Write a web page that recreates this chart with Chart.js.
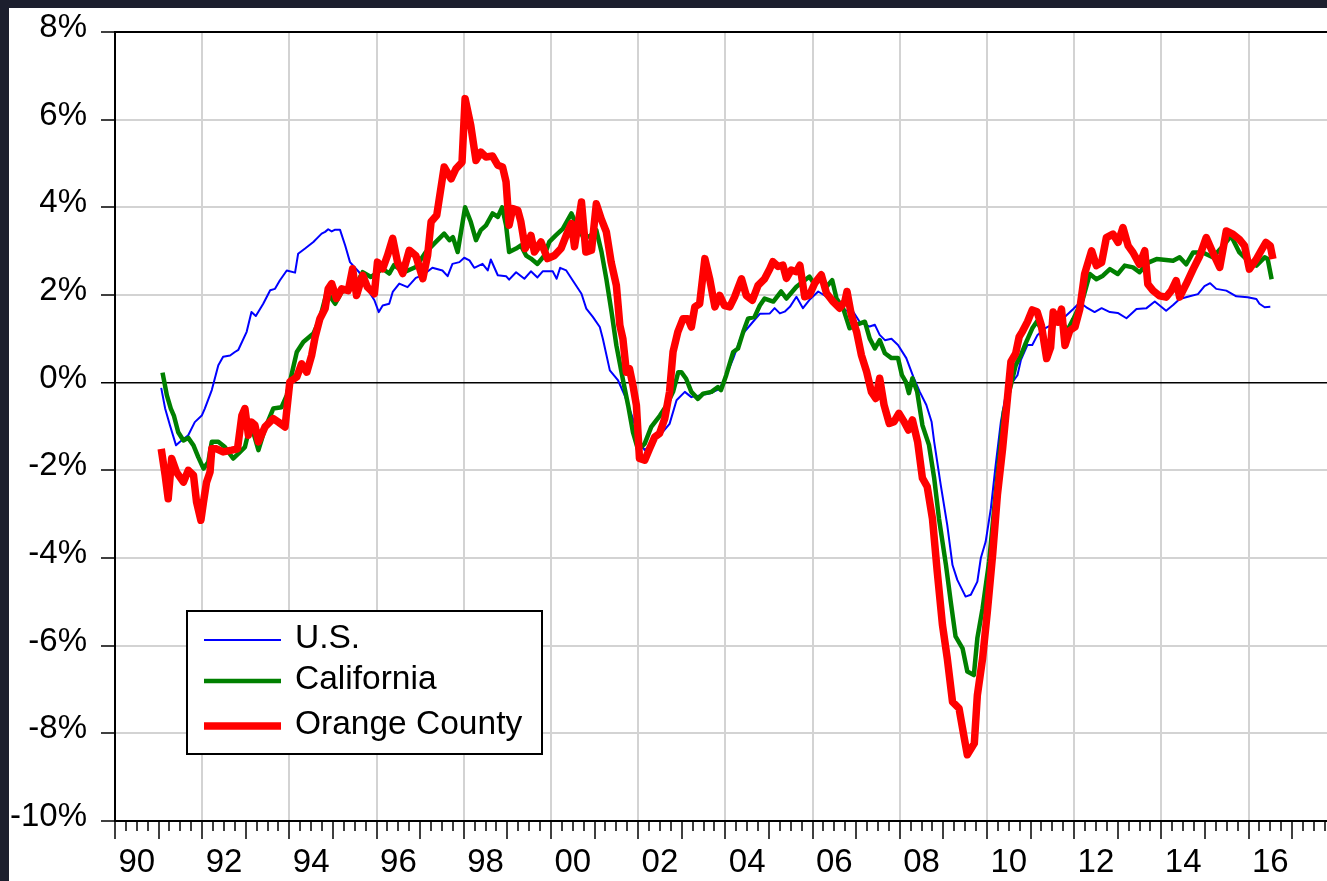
<!DOCTYPE html>
<html>
<head>
<meta charset="utf-8">
<script src="https://cdn.jsdelivr.net/npm/chart.js@4"></script>
<style>
  html, body { margin: 0; padding: 0; }
  body { background: #1c1f2e; width: 1327px; height: 881px; overflow: hidden; position: relative; }
  #chart { position: absolute; left: 9px; top: 8px; background: #fff; }
</style>
</head>
<body>
<canvas id="chart" width="1318" height="873"></canvas>
<script>
// values (year as decimal, percent change)
const usYears = [1991.06, 1991.15, 1991.26, 1991.40, 1991.49, 1991.68, 1991.83, 1991.99, 1992.06, 1992.22, 1992.37, 1992.48, 1992.64, 1992.75, 1992.83, 1993.02, 1993.13, 1993.23, 1993.40, 1993.56, 1993.67, 1993.78, 1993.94, 1994.13, 1994.20, 1994.36, 1994.55, 1994.66, 1994.74, 1994.82, 1994.89, 1994.97, 1995.05, 1995.16, 1995.28, 1995.39, 1995.6, 1995.83, 1995.95, 1996.05, 1996.14, 1996.29, 1996.37, 1996.52, 1996.71, 1996.9, 1997.06, 1997.28, 1997.51, 1997.63, 1997.74, 1997.9, 1998.01, 1998.13, 1998.24, 1998.43, 1998.55, 1998.62, 1998.78, 1998.97, 1999.04, 1999.2, 1999.39, 1999.54, 1999.69, 1999.81, 2000.04, 2000.13, 2000.21, 2000.35, 2000.5, 2000.7, 2000.81, 2000.96, 2001.12, 2001.19, 2001.35, 2001.54, 2001.69, 2001.88, 2002.03, 2002.15, 2002.3, 2002.5, 2002.72, 2002.88, 2003.07, 2003.22, 2003.41, 2003.64, 2003.87, 2004.02, 2004.18, 2004.37, 2004.6, 2004.79, 2005.02, 2005.13, 2005.25, 2005.36, 2005.48, 2005.63, 2005.78, 2005.93, 2006.13, 2006.32, 2006.5, 2006.7, 2006.93, 2007.08, 2007.31, 2007.43, 2007.54, 2007.66, 2007.81, 2007.96, 2008.15, 2008.31, 2008.46, 2008.61, 2008.73, 2008.79, 2008.94, 2009.09, 2009.21, 2009.32, 2009.51, 2009.63, 2009.78, 2009.86, 2009.97, 2010.09, 2010.2, 2010.32, 2010.43, 2010.59, 2010.7, 2010.78, 2010.93, 2011.04, 2011.16, 2011.35, 2011.55, 2011.7, 2011.82, 2011.98, 2012.13, 2012.28, 2012.47, 2012.63, 2012.82, 2013.0, 2013.2, 2013.43, 2013.66, 2013.85, 2014.11, 2014.27, 2014.42, 2014.65, 2014.84, 2014.99, 2015.12, 2015.26, 2015.49, 2015.72, 2015.98, 2016.18, 2016.25, 2016.37, 2016.5];
const usValues = [-0.12, -0.59, -0.97, -1.43, -1.35, -1.2, -0.9, -0.75, -0.59, -0.17, 0.4, 0.59, 0.62, 0.7, 0.75, 1.16, 1.61, 1.52, 1.8, 2.11, 2.14, 2.33, 2.56, 2.51, 2.94, 3.06, 3.21, 3.32, 3.4, 3.44, 3.5, 3.45, 3.49, 3.49, 3.13, 2.75, 2.52, 2.07, 1.88, 1.61, 1.76, 1.8, 2.07, 2.26, 2.18, 2.39, 2.45, 2.62, 2.56, 2.43, 2.71, 2.75, 2.85, 2.79, 2.62, 2.71, 2.56, 2.81, 2.45, 2.43, 2.35, 2.52, 2.37, 2.54, 2.4, 2.54, 2.54, 2.37, 2.62, 2.56, 2.33, 2.03, 1.69, 1.5, 1.27, 1.0, 0.28, 0.05, -0.29, -0.82, -1.35, -1.54, -1.39, -1.2, -0.94, -0.4, -0.21, -0.33, -0.29, -0.25, -0.14, 0.17, 0.55, 1.08, 1.35, 1.57, 1.58, 1.7, 1.58, 1.62, 1.73, 1.96, 1.7, 1.89, 2.08, 1.96, 1.77, 1.66, 1.62, 1.39, 1.28, 1.32, 1.09, 0.97, 1.0, 0.86, 0.56, 0.14, -0.21, -0.51, -0.89, -1.35, -2.33, -3.25, -4.16, -4.5, -4.88, -4.84, -4.54, -4.0, -3.63, -2.87, -1.88, -0.89, -0.28, 0.02, 0.17, 0.52, 0.86, 0.86, 1.09, 1.25, 1.35, 1.45, 1.53, 1.68, 1.83, 1.72, 1.61, 1.7, 1.61, 1.59, 1.47, 1.68, 1.7, 1.85, 1.64, 1.77, 1.91, 1.97, 2.02, 2.2, 2.27, 2.14, 2.1, 1.97, 1.95, 1.91, 1.8, 1.72, 1.73];

const caYears = [1991.09, 1991.19, 1991.28, 1991.35, 1991.45, 1991.57, 1991.68, 1991.80, 1991.91, 1992.03, 1992.14, 1992.22, 1992.37, 1992.52, 1992.71, 1992.83, 1992.98, 1993.10, 1993.17, 1993.29, 1993.44, 1993.63, 1993.82, 1993.94, 1994.17, 1994.32, 1994.55, 1994.70, 1994.86, 1995.05, 1995.20, 1995.39, 1995.54, 1995.68, 1995.87, 1996.14, 1996.29, 1996.4, 1996.63, 1996.9, 1997.13, 1997.36, 1997.55, 1997.67, 1997.75, 1997.86, 1998.03, 1998.16, 1998.28, 1998.39, 1998.51, 1998.66, 1998.78, 1998.88, 1998.97, 1999.04, 1999.2, 1999.31, 1999.43, 1999.54, 1999.69, 1999.85, 1999.96, 2000.11, 2000.27, 2000.47, 2000.59, 2000.75, 2000.9, 2001.04, 2001.16, 2001.27, 2001.39, 2001.5, 2001.66, 2001.77, 2001.88, 2002.0, 2002.15, 2002.3, 2002.5, 2002.65, 2002.8, 2002.92, 2002.99, 2003.1, 2003.22, 2003.37, 2003.49, 2003.68, 2003.83, 2003.9, 2004.02, 2004.18, 2004.29, 2004.41, 2004.52, 2004.67, 2004.79, 2004.9, 2005.1, 2005.28, 2005.4, 2005.63, 2005.93, 2006.05, 2006.2, 2006.32, 2006.45, 2006.55, 2006.7, 2006.85, 2007.0, 2007.2, 2007.31, 2007.43, 2007.54, 2007.66, 2007.81, 2007.96, 2008.05, 2008.14, 2008.21, 2008.29, 2008.4, 2008.52, 2008.67, 2008.79, 2008.9, 2009.06, 2009.17, 2009.28, 2009.44, 2009.55, 2009.7, 2009.78, 2009.9, 2010.05, 2010.16, 2010.28, 2010.39, 2010.55, 2010.66, 2010.78, 2010.89, 2011.04, 2011.15, 2011.25, 2011.35, 2011.45, 2011.55, 2011.7, 2011.85, 2011.98, 2012.2, 2012.36, 2012.51, 2012.66, 2012.82, 2013.0, 2013.16, 2013.35, 2013.5, 2013.7, 2013.89, 2014.11, 2014.27, 2014.42, 2014.57, 2014.73, 2014.95, 2015.18, 2015.4, 2015.6, 2015.79, 2015.95, 2016.18, 2016.37, 2016.44, 2016.53];
const caValues = [0.23, -0.29, -0.59, -0.75, -1.13, -1.32, -1.26, -1.43, -1.7, -1.96, -1.81, -1.35, -1.35, -1.47, -1.73, -1.62, -1.47, -0.97, -1.13, -1.54, -1.05, -0.59, -0.56, -0.29, 0.7, 0.93, 1.12, 1.46, 2.07, 1.8, 2.07, 2.14, 2.26, 2.52, 2.41, 2.6, 2.49, 2.68, 2.52, 2.64, 2.98, 3.21, 3.4, 3.25, 3.32, 2.98, 4.0, 3.67, 3.25, 3.48, 3.59, 3.86, 3.78, 4.0, 3.59, 2.98, 3.06, 3.13, 2.9, 2.83, 2.71, 2.9, 3.21, 3.36, 3.51, 3.86, 3.59, 3.3, 3.35, 3.48, 2.98, 2.37, 1.61, 0.85, 0.02, -0.52, -1.13, -1.54, -1.39, -1.01, -0.75, -0.52, -0.21, 0.24, 0.24, 0.09, -0.21, -0.37, -0.25, -0.21, -0.1, -0.17, 0.17, 0.7, 0.78, 1.16, 1.46, 1.5, 1.76, 1.92, 1.85, 2.08, 1.92, 2.19, 2.42, 2.23, 2.46, 2.19, 2.34, 1.92, 1.7, 1.24, 1.32, 1.39, 1.01, 0.78, 0.97, 0.67, 0.56, 0.56, 0.17, 0.02, -0.24, 0.1, -0.21, -0.97, -1.42, -2.18, -3.1, -4.16, -5.0, -5.79, -6.06, -6.59, -6.67, -5.83, -5.15, -4.08, -2.94, -1.73, -0.66, -0.05, 0.4, 0.63, 0.9, 1.24, 1.4, 1.2, 0.7, 0.9, 1.45, 1.4, 1.2, 1.45, 1.91, 2.48, 2.36, 2.44, 2.59, 2.48, 2.67, 2.63, 2.52, 2.74, 2.82, 2.8, 2.78, 2.86, 2.7, 2.97, 2.97, 2.86, 3.1, 3.35, 2.97, 2.82, 2.67, 2.86, 2.82, 2.36];

const ocYears = [1991.06, 1991.15, 1991.22, 1991.30, 1991.41, 1991.57, 1991.68, 1991.80, 1991.87, 1991.97, 1992.03, 1992.10, 1992.18, 1992.22, 1992.33, 1992.48, 1992.68, 1992.81, 1992.91, 1992.98, 1993.06, 1993.13, 1993.21, 1993.29, 1993.44, 1993.63, 1993.75, 1993.90, 1994.01, 1994.17, 1994.28, 1994.40, 1994.51, 1994.59, 1994.70, 1994.82, 1994.89, 1994.97, 1995.08, 1995.20, 1995.35, 1995.45, 1995.54, 1995.68, 1995.79, 1995.95, 1996.02, 1996.14, 1996.25, 1996.37, 1996.48, 1996.6, 1996.75, 1996.9, 1997.06, 1997.17, 1997.25, 1997.38, 1997.55, 1997.71, 1997.82, 1997.96, 1998.03, 1998.16, 1998.28, 1998.39, 1998.51, 1998.66, 1998.78, 1998.89, 1998.97, 1999.04, 1999.12, 1999.24, 1999.31, 1999.41, 1999.54, 1999.62, 1999.77, 1999.92, 2000.08, 2000.23, 2000.35, 2000.47, 2000.54, 2000.7, 2000.8, 2000.93, 2001.04, 2001.15, 2001.27, 2001.38, 2001.5, 2001.58, 2001.65, 2001.73, 2001.8, 2001.88, 2001.96, 2002.03, 2002.15, 2002.26, 2002.38, 2002.49, 2002.61, 2002.72, 2002.8, 2002.91, 2003.03, 2003.14, 2003.22, 2003.3, 2003.41, 2003.53, 2003.64, 2003.76, 2003.87, 2003.98, 2004.1, 2004.21, 2004.37, 2004.48, 2004.62, 2004.75, 2004.9, 2005.02, 2005.09, 2005.21, 2005.32, 2005.4, 2005.51, 2005.63, 2005.71, 2005.82, 2005.93, 2006.05, 2006.2, 2006.32, 2006.47, 2006.62, 2006.74, 2006.79, 2006.89, 2007.01, 2007.12, 2007.24, 2007.35, 2007.45, 2007.54, 2007.64, 2007.76, 2007.87, 2007.98, 2008.1, 2008.2, 2008.29, 2008.41, 2008.52, 2008.63, 2008.75, 2008.86, 2008.98, 2009.09, 2009.21, 2009.36, 2009.48, 2009.55, 2009.71, 2009.78, 2009.9, 2010.01, 2010.13, 2010.24, 2010.36, 2010.47, 2010.55, 2010.66, 2010.74, 2010.81, 2010.93, 2011.04, 2011.15, 2011.25, 2011.37, 2011.46, 2011.52, 2011.63, 2011.71, 2011.79, 2011.9, 2012.02, 2012.13, 2012.24, 2012.4, 2012.51, 2012.63, 2012.74, 2012.89, 2013.01, 2013.12, 2013.24, 2013.35, 2013.5, 2013.62, 2013.69, 2013.81, 2013.96, 2014.11, 2014.23, 2014.34, 2014.42, 2014.57, 2014.73, 2014.88, 2015.03, 2015.18, 2015.34, 2015.49, 2015.64, 2015.79, 2015.91, 2016.02, 2016.18, 2016.29, 2016.4, 2016.5, 2016.56];
const ocValues = [-1.51, -2.11, -2.65, -1.73, -2.04, -2.27, -2.0, -2.11, -2.72, -3.14, -2.72, -2.27, -2.04, -1.51, -1.51, -1.58, -1.54, -1.51, -0.75, -0.59, -1.2, -0.9, -0.97, -1.35, -1.01, -0.82, -0.9, -1.01, 0.02, 0.13, 0.43, 0.24, 0.62, 1.04, 1.46, 1.69, 2.14, 2.26, 1.92, 2.14, 2.1, 2.6, 1.99, 2.45, 2.18, 2.03, 2.75, 2.6, 2.9, 3.29, 2.75, 2.49, 3.02, 2.9, 2.37, 2.9, 3.67, 3.82, 4.92, 4.65, 4.88, 5.03, 6.48, 5.87, 5.07, 5.26, 5.15, 5.17, 4.96, 4.92, 4.58, 3.59, 3.97, 3.93, 3.67, 3.06, 3.36, 2.98, 3.21, 2.83, 2.9, 3.06, 3.36, 3.63, 3.1, 4.12, 2.98, 3.02, 4.08, 3.74, 3.44, 2.75, 2.22, 1.31, 1.0, 0.24, 0.32, -0.06, -0.52, -1.73, -1.77, -1.51, -1.24, -1.16, -0.82, -0.21, 0.7, 1.16, 1.46, 1.46, 1.27, 1.73, 1.8, 2.83, 2.37, 1.73, 1.99, 1.76, 1.73, 1.95, 2.37, 1.99, 1.88, 2.22, 2.37, 2.6, 2.76, 2.65, 2.68, 2.38, 2.57, 2.53, 2.68, 1.96, 2.0, 2.27, 2.46, 2.04, 1.85, 1.7, 1.85, 2.08, 1.54, 1.16, 0.63, 0.25, -0.21, -0.36, 0.1, -0.51, -0.93, -0.89, -0.7, -0.89, -1.08, -0.85, -1.35, -2.18, -2.37, -3.1, -4.31, -5.53, -6.29, -7.28, -7.43, -8.11, -8.49, -8.23, -7.13, -6.29, -5.22, -3.93, -2.56, -1.5, -0.36, 0.48, 0.67, 1.05, 1.16, 1.39, 1.66, 1.62, 1.3, 0.55, 0.8, 1.61, 1.38, 1.68, 0.85, 1.19, 1.27, 1.68, 2.48, 3.01, 2.67, 2.74, 3.31, 3.39, 3.2, 3.54, 3.12, 2.97, 2.7, 3.01, 2.25, 2.1, 1.98, 1.95, 2.1, 2.33, 1.95, 2.25, 2.59, 2.89, 3.31, 2.97, 2.63, 3.46, 3.39, 3.27, 3.12, 2.59, 2.82, 3.01, 3.2, 3.12, 2.82];

const seriesNames = ["U.S.", "California", "Orange County"];
const seriesColors = ["#0000ff", "#008000", "#ff0000"];
const seriesWidths = [2, 4.5, 7.5];

const yTicks = [-10, -8, -6, -4, -2, 0, 2, 4, 6, 8];

function toPoints(xs, ys) {
  return xs.map((x, i) => ({ x: x, y: ys[i] }));
}

// quarterly tick marks; labels sit in the middle of even years
const quarterTicks = [];
for (let q = 0; q <= 111; q++) quarterTicks.push(1990 + q * 0.25);

const fontFamily = "'Liberation Sans', Arial, sans-serif";
Chart.defaults.font.family = fontFamily;
Chart.defaults.color = "#000";

// legend box drawn inside the plot, like the original
const boxLegend = {
  id: "boxLegend",
  afterDraw(chart) {
    const ctx = chart.ctx;
    ctx.save();
    ctx.fillStyle = "#fff";
    ctx.fillRect(178, 603, 355, 143);
    ctx.strokeStyle = "#000";
    ctx.lineWidth = 2;
    ctx.strokeRect(178, 603, 355, 143);
    const rows = [632, 673, 718];
    ctx.font = "33.5px " + fontFamily;
    ctx.textBaseline = "middle";
    seriesNames.forEach((name, i) => {
      ctx.beginPath();
      ctx.strokeStyle = seriesColors[i];
      ctx.lineWidth = seriesWidths[i];
      ctx.moveTo(195, rows[i]);
      ctx.lineTo(272, rows[i]);
      ctx.stroke();
      ctx.fillStyle = "#000";
      ctx.fillText(name, 286, rows[i] - 1);
    });
    ctx.restore();
  }
};

const datasets = [
  { label: seriesNames[0], data: toPoints(usYears, usValues), order: 3 },
  { label: seriesNames[1], data: toPoints(caYears, caValues), order: 2 },
  { label: seriesNames[2], data: toPoints(ocYears, ocValues), order: 1 }
].map((d, i) => Object.assign(d, {
  borderColor: seriesColors[i],
  borderWidth: seriesWidths[i],
  pointRadius: 0,
  tension: 0,
  borderJoinStyle: "round",
  fill: false
}));

const config = {
  type: "line",
  data: { datasets: datasets },
  plugins: [boxLegend],
  options: {
    responsive: false,
    animation: false,
    layout: { padding: { top: 24, right: 0, left: 0, bottom: 0 } },
    plugins: { legend: { display: false }, tooltip: { enabled: false } },
    scales: {
      x: {
        type: "linear",
        min: 1990,
        max: 2017.8,
        afterBuildTicks: (scale) => { scale.ticks = quarterTicks.map(v => ({ value: v })); },
        afterFit: (scale) => { scale.height = 60; scale.paddingLeft = 0; scale.paddingRight = 0; },
        border: { color: "#000", width: 2 },
        grid: {
          color: (c) => (c.tick && c.tick.value % 2 === 0) ? "#d3d3d3" : "rgba(0,0,0,0)",
          lineWidth: 2,
          tickColor: "#000",
          tickWidth: 1.5,
          tickLength: 18,
          tickBorderDash: (c) => (c.tick && Number.isInteger(c.tick.value)) ? [] : [9, 40]
        },
        ticks: {
          autoSkip: false,
          maxRotation: 0,
          minRotation: 0,
          padding: 4,
          font: { size: 33 },
          callback: (v) => {
            const yr = Math.floor(v);
            if (v - yr === 0.5 && yr % 2 === 0) return String(yr % 100).padStart(2, "0");
            return "";
          }
        }
      },
      y: {
        min: -10,
        max: 8,
        afterBuildTicks: (scale) => { scale.ticks = yTicks.map(v => ({ value: v })); },
        afterFit: (scale) => { scale.width = 106; scale.paddingTop = 0; scale.paddingBottom = 0; },
        border: { color: "#000", width: 2 },
        grid: {
          color: (c) => (c.tick && (c.tick.value === 0 || c.tick.value === 8)) ? "#000" : "#d3d3d3",
          lineWidth: (c) => (c.tick && c.tick.value === 0) ? 1.5 : 2,
          tickColor: "#000",
          tickWidth: 1.5,
          tickLength: 14
        },
        ticks: {
          padding: 14,
          labelOffset: -4,
          font: { size: 33 },
          callback: (v) => v + "%"
        }
      }
    }
  }
};

const myChart = new Chart(document.getElementById("chart"), config);
</script>
</body>
</html>
